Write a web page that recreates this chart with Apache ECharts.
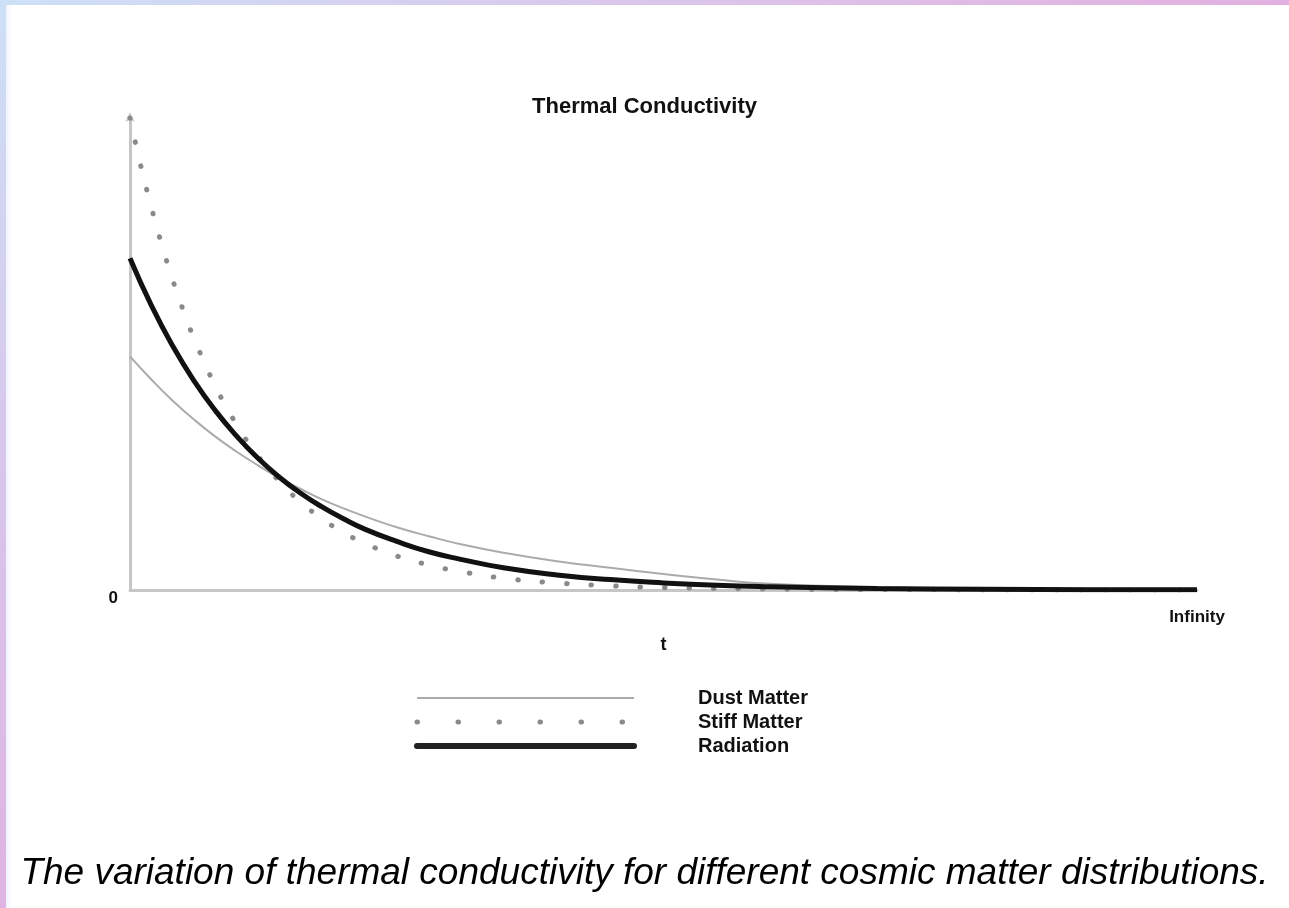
<!DOCTYPE html>
<html>
<head>
<meta charset="utf-8">
<script src="https://cdn.jsdelivr.net/npm/echarts@6/dist/echarts.min.js"></script>
<style>
  html, body { margin: 0; padding: 0; width: 1289px; height: 908px; overflow: hidden; background: #ffffff; }
  #topbar { position: absolute; left: 0; top: 0; width: 1289px; height: 5px; background: linear-gradient(to right, #cde0f6, #dcc4ea 55%, #e2b0e0); }
  #leftbar { position: absolute; left: 0; top: 0; width: 6px; height: 908px; background: linear-gradient(to bottom, #cde0f6, #d8c6ec 50%, #dfb4e2); }
  #inner { position: absolute; left: 6px; top: 5px; width: 6px; height: 903px; background: linear-gradient(to right, #eef4fc, #ffffff); }
  #chart { position: absolute; left: 0; top: 0; width: 1289px; height: 908px; }
</style>
</head>
<body>
<div id="topbar"></div>
<div id="leftbar"></div>
<div id="inner"></div>
<div id="chart"></div>
<script>
// ---- data (t from 0 to "Infinity" mapped to 0..100) ----
const chartTitle = 'Thermal Conductivity';
const caption = 'The variation of thermal conductivity for different cosmic matter distributions.';
const seriesNames = ['Dust Matter', 'Stiff Matter', 'Radiation'];

const tDust = [0, 2, 4, 6, 8, 10, 12, 14, 16, 18, 20, 22, 25, 28, 31, 35, 40, 45, 50, 55, 60, 70, 80, 90, 100];
const dustValues = [49.5, 44.6, 40.1, 36.1, 32.5, 29.3, 26.4, 23.7, 21.4, 19.2, 17.3, 15.6, 13.3, 11.4, 9.7, 7.9, 6.1, 4.7, 3.4, 2.2, 1.3, 0.6, 0.3, 0.1, 0.05];

const tStiff = [0, 1, 2, 3, 4, 5, 6, 8, 10, 12, 14, 16, 18, 20, 22, 25, 28, 31, 35, 40, 45, 50, 60, 70, 80, 90, 100];
const stiffValues = [100, 90.0, 81.1, 73.0, 65.7, 59.2, 53.3, 43.2, 35.0, 28.4, 23.0, 18.6, 15.1, 12.2, 9.9, 7.2, 5.3, 3.9, 2.5, 1.5, 0.9, 0.5, 0.2, 0.06, 0.02, 0.01, 0];

const tRad = [0, 2, 4, 6, 8, 10, 12, 14, 16, 18, 20, 22, 25, 28, 31, 35, 40, 45, 50, 55, 60, 70, 80, 90, 100];
const radiationValues = [70.3, 60.3, 51.7, 44.3, 38.0, 32.6, 27.9, 23.9, 20.5, 17.6, 15.1, 12.9, 10.3, 8.1, 6.5, 4.7, 3.2, 2.2, 1.5, 1.0, 0.7, 0.3, 0.15, 0.07, 0.03];

const xTickLabels = { 0: '', 100: 'Infinity' };
const yTickLabels = { 0: '0', 100: '' };
const xAxisName = 't';

function pairs(xs, ys) { return xs.map((x, i) => [x, ys[i]]); }

const chart = echarts.init(document.getElementById('chart'), null, { renderer: 'canvas' });
const labelFont = 'Liberation Sans, Arial, sans-serif';

const dustStyle = { color: '#ababab', width: 2 };
const stiffStyle = { color: '#8a8a8a', width: 5, type: [0.5, 24], cap: 'round' };
const radStyle = { color: '#111111', width: 5 };

chart.setOption({
  backgroundColor: 'transparent',
  animation: false,
  title: [
    {
      text: chartTitle,
      left: 'center',
      top: 91,
      textStyle: { fontFamily: labelFont, fontWeight: 'bold', fontSize: 22, color: '#111' }
    },
    {
      text: caption,
      left: 'center',
      top: 850,
      textStyle: { fontFamily: labelFont, fontStyle: 'italic', fontWeight: 'normal', fontSize: 37, color: '#000' }
    }
  ],
  grid: { left: 130, right: 92, top: 118, bottom: 318, containLabel: false },
  xAxis: {
    type: 'value',
    min: 0, max: 100, interval: 100,
    name: xAxisName,
    nameLocation: 'middle',
    nameGap: 46,
    nameTextStyle: { fontFamily: labelFont, fontWeight: 'bold', fontSize: 18, color: '#111' },
    axisLine: { show: true, lineStyle: { color: '#c6c6c6', width: 3 } },
    axisTick: { show: false },
    splitLine: { show: false },
    axisLabel: {
      formatter: v => xTickLabels[v] ?? '',
      margin: 19,
      fontFamily: labelFont, fontWeight: 'bold', fontSize: 17, color: '#111'
    }
  },
  yAxis: {
    type: 'value',
    min: 0, max: 100, interval: 100,
    axisLine: { show: true, lineStyle: { color: '#c6c6c6', width: 3 }, symbol: ['none', 'arrow'], symbolSize: [7, 10], symbolOffset: [0, 6] },
    axisTick: { show: false },
    splitLine: { show: false },
    axisLabel: {
      formatter: v => yTickLabels[v] ?? '',
      margin: 12,
      verticalAlign: 'top',
      fontFamily: labelFont, fontWeight: 'bold', fontSize: 17, color: '#111'
    }
  },
  legend: {
    orient: 'vertical',
    left: 409,
    top: 683,
    itemWidth: 217,
    itemHeight: 14,
    itemGap: 4,
    itemStyle: { opacity: 0, borderWidth: 0 },
    data: [
      { name: seriesNames[0], lineStyle: { color: '#ababab', width: 2 } },
      { name: seriesNames[1], lineStyle: { color: '#8a8a8a', width: 5, type: [0.5, 40.5], cap: 'round' } },
      { name: seriesNames[2], lineStyle: { color: '#222222', width: 6, cap: 'round' } }
    ],
    textStyle: { fontFamily: labelFont, fontWeight: 'bold', fontSize: 20, color: '#111', padding: [0, 0, 0, 59] }
  },
  series: [
    {
      name: seriesNames[0],
      type: 'line',
      smooth: true,
      showSymbol: false,
      symbol: 'none',
      data: pairs(tDust, dustValues),
      lineStyle: dustStyle,
      itemStyle: { color: '#ababab' },
      z: 2
    },
    {
      name: seriesNames[1],
      type: 'line',
      smooth: true,
      showSymbol: false,
      symbol: 'none',
      data: pairs(tStiff, stiffValues),
      lineStyle: stiffStyle,
      itemStyle: { color: '#8a8a8a' },
      z: 1
    },
    {
      name: seriesNames[2],
      type: 'line',
      smooth: true,
      showSymbol: false,
      symbol: 'none',
      data: pairs(tRad, radiationValues),
      lineStyle: radStyle,
      itemStyle: { color: '#111111' },
      z: 3
    }
  ]
});
</script>
</body>
</html>
